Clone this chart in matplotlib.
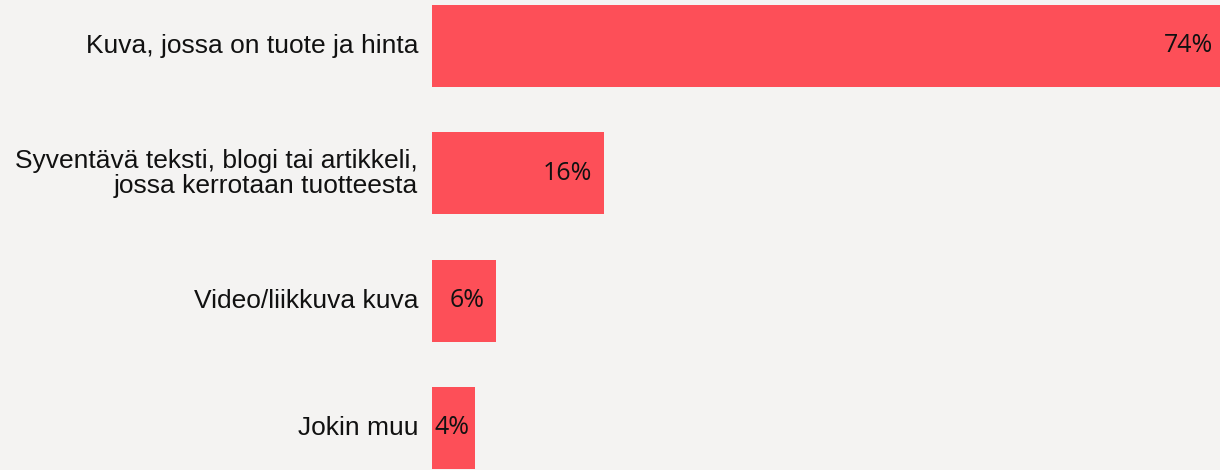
import matplotlib
matplotlib.use('Agg')
import matplotlib.pyplot as plt

categories = [
    'Kuva, jossa on tuote ja hinta',
    'Syventävä teksti, blogi tai artikkeli,\njossa kerrotaan tuotteesta',
    'Video/liikkuva kuva',
    'Jokin muu',
]
values = [74, 16, 6, 4]
value_labels = ['74%', '16%', '6%', '4%']

bg = '#f4f3f2'
bar_color = '#fd4f58'

fig = plt.figure(figsize=(12.2, 4.7), dpi=100, facecolor=bg)
ax = fig.add_axes([432 / 1220, 0, 788 / 1220, 1])
ax.set_facecolor(bg)

pos = list(range(len(categories)))
bars = ax.barh(pos, values, height=0.645, color=bar_color)

# ~10.7 px per percent; the 74% bar runs past the right edge
ax.set_xlim(0, 73.5)
ax.set_ylim(3.33, -0.361)

for b, v, lab in zip(bars, values, value_labels):
    yc = b.get_y() + b.get_height() / 2
    if v < 5:
        # too narrow: text starts just inside the bar
        ax.annotate(lab, (0, yc), xytext=(2, 0), textcoords='offset points',
                    ha='left', va='center', fontsize=18,
                    family='Open Sans', color='#111111')
    else:
        ax.annotate(lab, (b.get_width(), yc), xytext=(-8.6, 0),
                    textcoords='offset points', ha='right', va='center',
                    fontsize=18, family='Open Sans', color='#111111',
                    annotation_clip=False)

for p, c in zip(pos, categories):
    ax.annotate(c, (0, p), xytext=(-10, 0), textcoords='offset points',
                ha='right', va='center', fontsize=19,
                family='Liberation Sans', color='#111111',
                multialignment='right', linespacing=1.05,
                annotation_clip=False)

ax.set_xticks([])
ax.set_yticks([])
for s in ax.spines.values():
    s.set_visible(False)

fig.savefig('out.png', dpi=100, facecolor=bg)
